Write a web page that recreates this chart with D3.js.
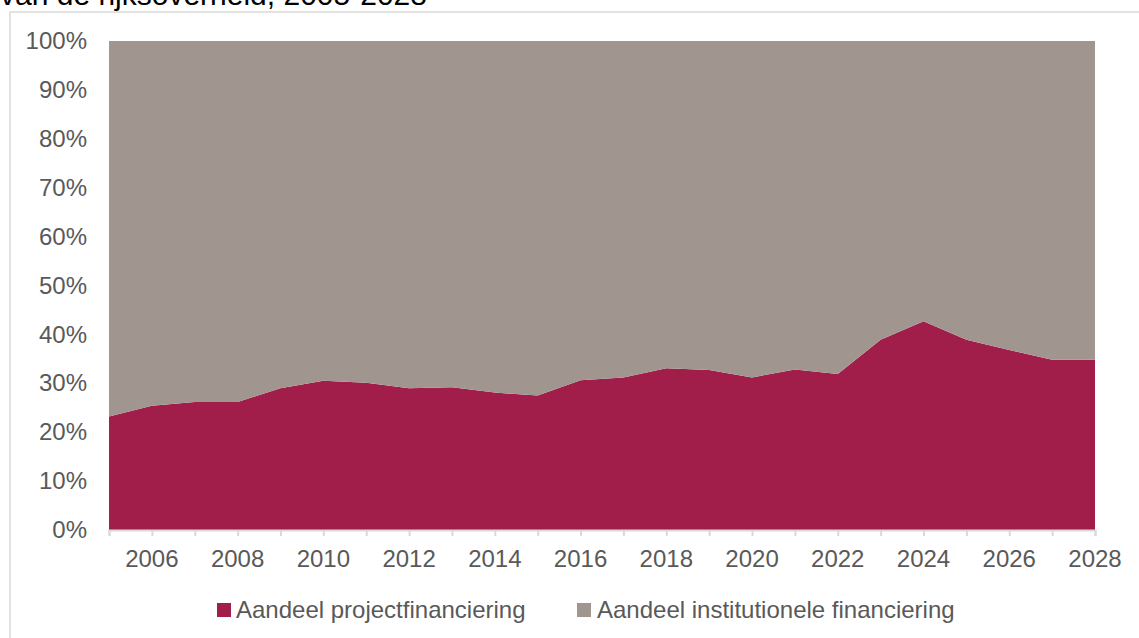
<!DOCTYPE html>
<html><head><meta charset="utf-8">
<script src="https://cdn.jsdelivr.net/npm/d3@7/dist/d3.min.js"></script>
<style>body{margin:0;background:#fff}svg{display:block;font-family:Arial,"Liberation Sans",sans-serif}</style>
</head><body><svg id="c" width="1139" height="638"></svg>
<script>
const years = [2005,2006,2007,2008,2009,2010,2011,2012,2013,2014,2015,2016,2017,2018,2019,2020,2021,2022,2023,2024,2025,2026,2027,2028];
const projectShare = [23.2,25.4,26.2,26.2,29.0,30.5,30.1,29.0,29.2,28.1,27.5,30.6,31.2,33.1,32.7,31.2,32.8,31.9,38.9,42.7,38.9,36.8,34.8,34.8];
const institutionalShare = projectShare.map(v => 100 - v);
const seriesNames = ["Aandeel projectfinanciering","Aandeel institutionele financiering"];
const seriesColors = ["#a11e4b","#a0968f"];
const yTicks = [0,10,20,30,40,50,60,70,80,90,100];
const xLabelYears = [2006,2008,2010,2012,2014,2016,2018,2020,2022,2024,2026,2028];
const titleText = "van de rijksoverheid, 2005-2028";

const svg = d3.select("#c");
const m = {l:109, r:1095, t:41, b:530};
const x = d3.scaleLinear().domain([2005,2028]).range([m.l,m.r]);
const y = d3.scaleLinear().domain([0,100]).range([m.b,m.t]);

// border
svg.append("rect").attr("x",10).attr("y",12).attr("width",1160).attr("height",700)
  .attr("fill","none").attr("stroke","#d9d9d9").attr("stroke-width",1.5);
// title (cut off at top, as in the reference)
svg.append("text").attr("x",0).attr("y",5).attr("font-size",30).attr("fill","#000").text(titleText);

const table = years.map((yr,i)=>({year:yr, p:projectShare[i], q:institutionalShare[i]}));
const stack = d3.stack().keys(["p","q"])(table);
const area = d3.area().x(d=>x(d.data.year)).y0(d=>y(d[0])).y1(d=>y(d[1]));
svg.append("g").selectAll("path").data(stack).join("path")
  .attr("d",area).attr("fill",(d,i)=>seriesColors[i]);

// x axis
const xa = svg.append("g").attr("transform",`translate(0,${m.b})`)
  .call(d3.axisBottom(x).tickValues(years).tickSize(6).tickFormat(""));
xa.select(".domain").attr("stroke","#d9d9d9").attr("stroke-width",2);
xa.selectAll(".tick line").attr("stroke","#d9d9d9").attr("stroke-width",2);
svg.append("g").selectAll("text").data(xLabelYears).join("text")
  .attr("x",d=>x(d)).attr("y",567).attr("text-anchor","middle")
  .attr("font-size",24).attr("fill","#595959").text(d=>d);

// y axis labels
const ya = svg.append("g").attr("transform",`translate(${m.l},0)`)
  .call(d3.axisLeft(y).tickValues(yTicks).tickSize(0).tickPadding(22).tickFormat(d=>d+"%"));
ya.select(".domain").remove();
ya.selectAll("text").attr("font-size",24).attr("fill","#595959").attr("font-family","Arial,'Liberation Sans',sans-serif");

// legend
const lg = [{x:217,tx:236},{x:577,tx:597}];
seriesNames.forEach((n,i)=>{
  svg.append("rect").attr("x",lg[i].x).attr("y",603).attr("width",14).attr("height",14).attr("fill",seriesColors[i]);
  svg.append("text").attr("x",lg[i].tx).attr("y",618).attr("font-size",24).attr("fill","#595959").text(n);
});
</script></body></html>
